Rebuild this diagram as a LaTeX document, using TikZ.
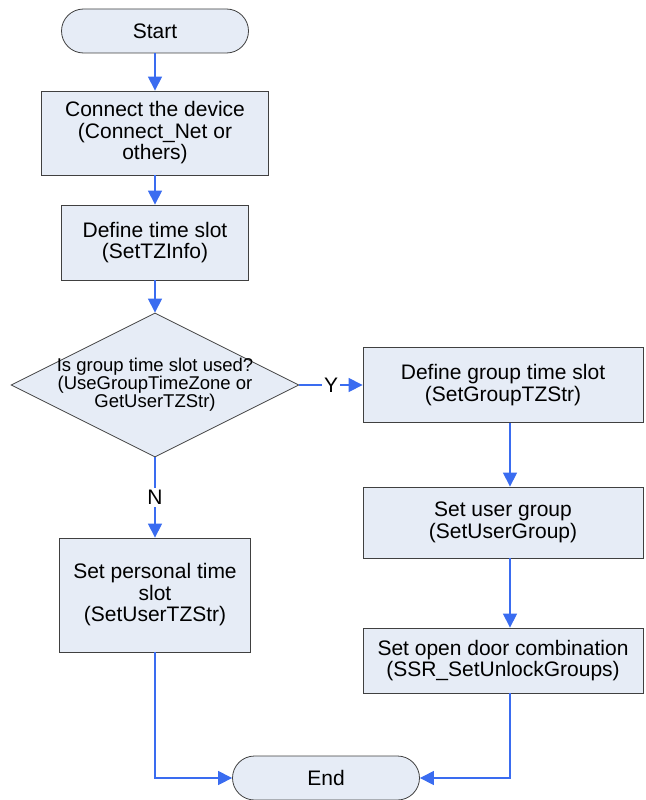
\documentclass[tikz,border=0pt]{standalone}
\usepackage{fontspec}
\setmainfont{Liberation Sans}
\usepackage{xcolor}
\usetikzlibrary{shapes.geometric,arrows.meta}

\definecolor{lnblue}{RGB}{58,108,240}
\definecolor{boxfill}{RGB}{230,236,246}

\begin{document}
\begin{tikzpicture}[x=1pt,y=-1pt]%
  \tikzstyle{termn}=[rectangle,rounded corners=22pt,draw=black!75,fill=boxfill,line width=0.8pt,minimum width=187pt,minimum height=44pt,font=\fontsize{21}{21.5}\selectfont]
  \tikzstyle{boxn}=[rectangle,draw=black!75,fill=boxfill,line width=0.8pt,align=center,inner sep=2pt,font=\fontsize{21}{21.5}\selectfont]
  \tikzstyle{decn}=[diamond,draw=black!75,fill=boxfill,line width=0.8pt,minimum width=288pt,minimum height=144pt,inner sep=0pt]
  \tikzstyle{arr}=[draw=lnblue,line width=1.2pt,-{Triangle[width=14pt,length=14pt]}]
  \tikzstyle{lbl}=[fill=white,inner sep=2pt,font=\fontsize{21}{21.5}\selectfont]
  \useasboundingbox (0,0) rectangle (645,800);
  \node(start) at (155,31) [termn]{Start};
  \node(conn) at (155,133) [boxn,minimum width=227pt,minimum height=84pt]{Connect the device\\(Connect\_Net or\\others)};
  \node(tz) at (155,242.5) [boxn,minimum width=187pt,minimum height=75pt]{Define time slot\\(SetTZInfo)};
  \node(dec) at (155,385) [decn,label={[align=center,font=\fontsize{18.5}{18}\selectfont]center:Is group time slot used?\\(UseGroupTimeZone or\\GetUserTZStr)}]{};
  \node(grp) at (503,385) [boxn,minimum width=280pt,minimum height=75pt]{Define group time slot\\(SetGroupTZStr)};
  \node(ugrp) at (503,522.5) [boxn,minimum width=280pt,minimum height=71pt]{Set user group\\(SetUserGroup)};
  \node(door) at (503,660.5) [boxn,minimum width=280pt,minimum height=65pt]{Set open door combination\\(SSR\_SetUnlockGroups)};
  \node(pers) at (155,595) [boxn,minimum width=191pt,minimum height=114pt]{Set personal time\\slot\\(SetUserTZStr)};
  \node(end) at (326,778) [termn]{End};
  \draw[arr] (start) -- (conn);
  \draw[arr] (conn) -- (tz);
  \draw[arr] (tz) -- (dec);
  \draw[arr] (dec.east) -- node[lbl]{Y} (grp.west);
  \draw[arr] (dec.south) -- node[lbl]{N} (pers.north);
  \draw[arr] ([xshift=7pt]grp.south) -- ([xshift=7pt]ugrp.north);
  \draw[arr] ([xshift=7pt]ugrp.south) -- ([xshift=7pt]door.north);
  \draw[arr] (pers) |- (end);
  \draw[arr] ([xshift=7pt]door.south) |- (end);
\end{tikzpicture}
\end{document}
